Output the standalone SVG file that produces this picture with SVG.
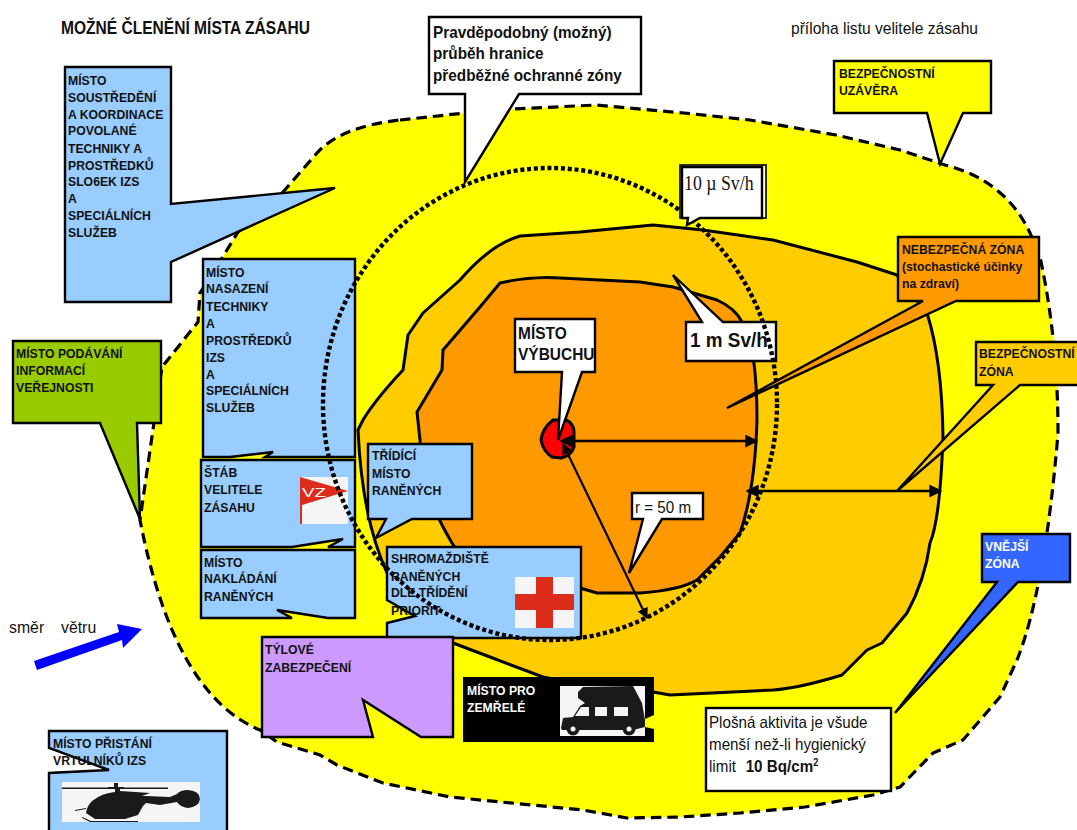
<svg xmlns="http://www.w3.org/2000/svg" width="1077" height="830" viewBox="0 0 1077 830">
<defs>
<style>
text{font-family:"Liberation Sans",Arial,sans-serif;fill:#111}
.b{font-weight:700;font-size:13.3px}
.box{stroke:#000;stroke-width:2.4;stroke-linejoin:miter}
.blue{fill:#9cf}
.w{fill:#fff}
.zone{stroke:#000;stroke-width:3;stroke-linejoin:round}
.ln{stroke:#000;fill:none}
</style>
<marker id="ah" viewBox="0 0 10 10" refX="9" refY="5" markerWidth="5" markerHeight="5" orient="auto-start-reverse"><path d="M0,0L10,5L0,10Z" fill="#000"/></marker>
</defs>
<rect width="1077" height="830" fill="#fff"/>
<g id="zones">
<path id="outer-zone" d="M400,120L465,113 513,109 596,105 684,113 750,120 836,135 900,150 945,165Q1005,180 1030,233L1040,257Q1058,340 1058,433Q1045,590 1017,660L1000,697 963,740 933,753 900,787 873,795 805,807 740,813 680,817 627,818 583,810 450,797 383,783 337,765 320,755 277,742 260,730Q174,695 140,520L162,367 198,322 200,293 222,258 238,232 283,192 317,153Q340,127 400,120Z" fill="#ff0" stroke="#000" stroke-width="3.2" stroke-dasharray="10.5 6"/>
<path id="safe-zone" class="zone" fill="#fc0" d="M520,236L580,232 653,225 703,230 773,240 857,262 897,275 927,313Q942,360 943,437Q940,520 930,543Q925,580 907,613L882,643 867,650 842,675Q800,688 773,690L670,695 653,692 600,688 543,677 490,657 453,643 430,625 420,600 388,575Q362,520 358,430L363,420Q375,400 403,370L408,335 423,313 460,280Q490,245 520,236Z"/>
<path id="danger-zone" class="zone" fill="#f90" d="M500,283Q530,276 560,278L640,282 673,287 717,300Q735,308 742,322Q757,345 757,420Q755,490 740,533L720,557 697,580Q680,590 640,593L597,593 580,588 470,570 452,543Q420,490 420,440L417,412 442,370 443,350 480,307Z"/>
<path id="blast-center" fill="#f00" stroke="#000" stroke-width="3" d="M553,420L566,420Q573,423 574,431L574,447Q571,456 561,458L552,457Q543,451 541,440Q542,429 553,420Z"/>
</g>
<g id="connectors">
<line class="ln" stroke-width="2.6" x1="561" y1="441" x2="757" y2="441" marker-start="url(#ah)" marker-end="url(#ah)"/>
<line class="ln" stroke-width="2.2" x1="563" y1="444" x2="647" y2="618" marker-start="url(#ah)" marker-end="url(#ah)"/>
<line class="ln" stroke-width="2.6" x1="747" y1="491" x2="941" y2="491" marker-start="url(#ah)" marker-end="url(#ah)"/>
</g>
<g id="node-soustredeni">
<path class="box blue" d="M65,67H171V204L335,188 171,262V302H65Z"/>
<text class="b" transform="translate(68 0) scale(.92 1)"><tspan x="0" y="85">MÍSTO</tspan><tspan x="0" y="102">SOUSTŘEDĚNÍ</tspan><tspan x="0" y="119">A KOORDINACE</tspan><tspan x="0" y="135">POVOLANÉ</tspan><tspan x="0" y="153">TECHNIKY A</tspan><tspan x="0" y="170">PROSTŘEDKŮ</tspan><tspan x="0" y="186">SLO6EK IZS</tspan><tspan x="0" y="203">A</tspan><tspan x="0" y="220">SPECIÁLNÍCH</tspan><tspan x="0" y="237">SLUŽEB</tspan></text>
</g>
<g id="node-nasazeni">
<path class="box blue" d="M203,259H355V457H265L273,452 230,457H203Z"/>
<text class="b" transform="translate(206 0) scale(.92 1)"><tspan x="0" y="277">MÍSTO</tspan><tspan x="0" y="293">NASAZENÍ</tspan><tspan x="0" y="311">TECHNIKY</tspan><tspan x="0" y="328">A</tspan><tspan x="0" y="345">PROSTŘEDKŮ</tspan><tspan x="0" y="362">IZS</tspan><tspan x="0" y="379">A</tspan><tspan x="0" y="395">SPECIÁLNÍCH</tspan><tspan x="0" y="412">SLUŽEB</tspan></text>
</g>
<g id="node-stab">
<path class="box blue" d="M201,460H355V547H328L343,539 292,547H201Z"/>
<text class="b" transform="translate(204 0) scale(.92 1)"><tspan x="0" y="477">ŠTÁB</tspan><tspan x="0" y="494">VELITELE</tspan><tspan x="0" y="512">ZÁSAHU</tspan></text>
<rect x="300" y="477" width="48" height="47" fill="#f5f5f5"/>
<path fill="#dc2c1a" d="M300,477L348,491 302,505V524H300Z"/>
<text transform="translate(302 497) scale(1.5 1)" font-size="12.5" font-weight="400" style="fill:#fff">VZ</text>
</g>
<g id="node-nakladani">
<path class="box blue" d="M201,550H355V618H328L277,610 292,618H201Z"/>
<text class="b" transform="translate(204 0) scale(.92 1)"><tspan x="0" y="567">MÍSTO</tspan><tspan x="0" y="583">NAKLÁDÁNÍ</tspan><tspan x="0" y="601">RANĚNÝCH</tspan></text>
</g>
<g id="node-verejnost">
<path class="box" fill="#9c0" d="M13,341H161V423H137L140,519 100,423H13Z"/>
<text class="b" transform="translate(16 0) scale(.92 1)"><tspan x="0" y="358">MÍSTO PODÁVÁNÍ</tspan><tspan x="0" y="375">INFORMACÍ</tspan><tspan x="0" y="392">VEŘEJNOSTI</tspan></text>
</g>
<g id="node-tridici">
<path class="box blue" d="M368,444H472V519H412L376,538 386,519H368Z"/>
<text class="b" transform="translate(372 0) scale(.92 1)"><tspan x="0" y="460">TŘÍDÍCÍ</tspan><tspan x="0" y="478">MÍSTO</tspan><tspan x="0" y="495">RANĚNÝCH</tspan></text>
</g>
<g id="node-shromazdiste">
<path class="box blue" d="M387,547H581V638H387V623L415,616 387,600Z"/>
<text class="b" transform="translate(391 0) scale(.92 1)"><tspan x="0" y="563">SHROMAŽDIŠTĚ</tspan><tspan x="0" y="581">RANĚNÝCH</tspan><tspan x="0" y="597">DLE TŘÍDĚNÍ</tspan><tspan x="0" y="615">PRIORIT</tspan></text>
<rect x="515" y="577" width="59" height="51" fill="#f5f5f5"/>
<path fill="#dc2c1a" d="M536,577H553V594H574V610H553V628H536V610H515V594H536Z"/>
</g>
<g id="node-tylove">
<path class="box" fill="#c9f" d="M262,637H453V737H421L363,700 373,737H262Z"/>
<text class="b" transform="translate(265 0) scale(.92 1)"><tspan x="0" y="654">TÝLOVÉ</tspan><tspan x="0" y="672">ZABEZPEČENÍ</tspan></text>
</g>
<g id="node-zemrele">
<path fill="#000" d="M463,677H654V715L645,719V727L654,729V742H463Z"/>
<text class="b" style="fill:#fff" transform="translate(467 0) scale(.92 1)"><tspan x="0" y="695" style="fill:#fff">MÍSTO PRO</tspan><tspan x="0" y="712" style="fill:#fff">ZEMŘELÉ</tspan></text>
<rect x="560" y="686" width="85" height="50" fill="#f5f5f5"/>
<path fill="#1a1a1a" d="M561,728L563,718 573,717 580,706 585,703 578,698 578,692 583,687 633,686 642,703 645,720V727L633,730H562Z"/>
<path fill="#f5f5f5" d="M575,716L581,707H589V716ZM595,707H607V716H595ZM614,707H628V716H614Z"/>
<circle cx="573" cy="729" r="6.5" fill="#1a1a1a"/><circle cx="573" cy="729" r="2.5" fill="#f5f5f5"/>
<circle cx="629" cy="729" r="6.5" fill="#1a1a1a"/><circle cx="629" cy="729" r="2.5" fill="#f5f5f5"/>
</g>
<g id="node-vrtulnik">
<path class="box blue" d="M49,731H227V832H49V773L109,770 49,748Z"/>
<text class="b" transform="translate(53 0) scale(.92 1)"><tspan x="0" y="748">MÍSTO PŘISTÁNÍ</tspan><tspan x="0" y="765">VRTULNÍKŮ IZS</tspan></text>
<rect x="62" y="782" width="138" height="40" fill="#f5f5f5"/>
<path fill="#1a1a1a" d="M62,787.5H168V789H120V791L150,793 142,796H146L170,797 177,794Q180,790 188,790Q200,791 200,799Q199,807 188,808Q180,807 177,802L160,805 146,803 143,806 138,815 125,819H95L86,813Q87,806 92,801 102,793 115,792V789H62ZM114,783H118V787H124V789H108V787H114ZM75,810L86,808V809L75,811ZM82,817L91,821H138V822H90L82,818Z"/>
</g>
<g id="node-uzavera">
<path class="box" fill="#ff0" d="M834,61H991V113H963L940,164 927,113H834Z"/>
<text class="b" transform="translate(839 0) scale(.92 1)"><tspan x="0" y="78">BEZPEČNOSTNÍ</tspan><tspan x="0" y="95">UZÁVĚRA</tspan></text>
</g>
<g id="node-hranice">
<path class="box w" d="M429,17H641V94H519L465,182V94H429Z"/>
<text font-weight="700" font-size="16.5" transform="translate(433 0) scale(.928 1)"><tspan x="0" y="38">Pravděpodobný (možný)</tspan><tspan x="0" y="59">průběh hranice</tspan><tspan x="0" y="81">předběžné ochranné zóny</tspan></text>
</g>
<g id="node-nebezpecna">
<path class="box" fill="#f90" d="M898,237H1039V301H956L727,408 923,301H898Z"/>
<text class="b" transform="translate(902 0) scale(.92 1)"><tspan x="0" y="254">NEBEZPEČNÁ ZÓNA</tspan><tspan x="0" y="271">(stochastické účinky</tspan><tspan x="0" y="288">na zdraví)</tspan></text>
</g>
<g id="node-bezpecnostni">
<path class="box" fill="#fc0" d="M976,342H1079V385H1020L897,491 993,385H976Z"/>
<text class="b" transform="translate(979 0) scale(.92 1)"><tspan x="0" y="358">BEZPEČNOSTNÍ</tspan><tspan x="0" y="376">ZÓNA</tspan></text>
</g>
<g id="node-vnejsi">
<path class="box" fill="#36f" d="M982,534H1070V582H1018L895,713 997,582H982Z"/>
<text class="b" transform="translate(985 0) scale(.92 1)"><tspan x="0" y="551" style="fill:#fff">VNĚJŠÍ</tspan><tspan x="0" y="568" style="fill:#fff">ZÓNA</tspan></text>
</g>
<g id="node-plosna">
<rect class="box w" x="706" y="708" width="185" height="83"/>
<text font-size="16.5" transform="translate(709 0) scale(.92 1)"><tspan x="0" y="728">Plošná aktivita je všude</tspan><tspan x="0" y="750">menší než-li hygienický</tspan><tspan x="0" y="772">limit </tspan><tspan dx="6" font-weight="700">10 Bq/cm</tspan><tspan font-weight="700" font-size="10" dy="-6">2</tspan></text>
</g>
<g id="node-vybuch">
<path class="box w" d="M515,319H595V372H582L558,440 562,372H515Z"/>
<text font-weight="700" font-size="17" transform="translate(518 0) scale(.91 1)"><tspan x="0" y="339">MÍSTO</tspan><tspan x="0" y="360">VÝBUCHU</tspan></text>
</g>
<g id="node-r50">
<path class="box w" d="M632,493H703V519H662L629,573 643,519H632Z"/>
<text font-size="16" transform="translate(635 513) scale(.95 1)">r = 50 m</text>
</g>
<g id="node-1msv">
<path class="box w" d="M686,322H702L673,275 723,322H776V361H686Z"/>
<text font-weight="700" font-size="21" transform="translate(690 347) scale(.9 1)">1 m Sv/h</text>
</g>
<ellipse id="boundary" cx="550" cy="404" rx="227" ry="236" fill="none" stroke="#000" stroke-width="4.4" stroke-dasharray="4 2.8"/>
<g id="node-10usv">
<rect x="680" y="165" width="86" height="53" fill="#fff" stroke="#000" stroke-width="1.6"/>
<path class="box w" stroke-width="1.6" d="M682,167H762V218H700L687,225 688,218H682Z"/>
<text style="font-family:'Liberation Serif',serif" font-size="20" transform="translate(684 190) scale(.89 1)">10 µ Sv/h</text>
</g>
<g id="wind">
<path fill="#00f" d="M34,661L119,632 117,624 142,629 123,648 122,640 37,670Z"/>
<text font-size="16.5" transform="translate(9 633) scale(.96 1)">směr</text>
<text font-size="16.5" transform="translate(61 633) scale(.96 1)">větru</text>
</g>
<text id="title" font-weight="700" font-size="17.5" transform="translate(61 34) scale(.89 1)">MOŽNÉ ČLENĚNÍ MÍSTA ZÁSAHU</text>
<text id="annex" font-size="16" transform="translate(791 34) scale(.974 1)">příloha listu velitele zásahu</text>
</svg>
